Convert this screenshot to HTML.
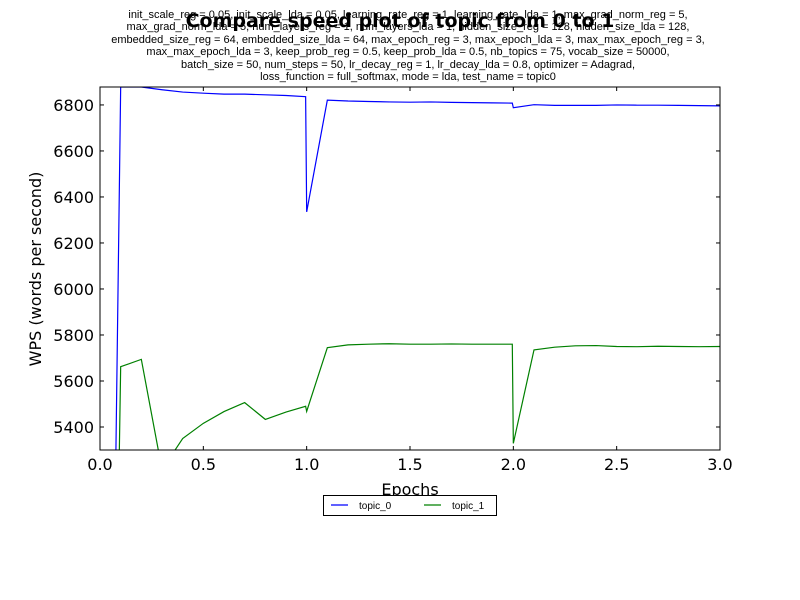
<!DOCTYPE html>
<html><head><meta charset="utf-8"><style>
html,body{margin:0;padding:0;background:#fff;overflow:hidden;width:800px;height:600px;}
svg{display:block;font-family:"Liberation Sans",sans-serif;}
</style></head><body>
<svg id="chart" width="800" height="600" xmlns="http://www.w3.org/2000/svg">
<rect width="800" height="600" fill="#fff"/>
<g font-size="11" text-anchor="middle" fill="#000">
<text x="408" y="18">init_scale_reg = 0.05, init_scale_lda = 0.05, learning_rate_reg = 1, learning_rate_lda = 1, max_grad_norm_reg = 5,</text>
<text x="408" y="30">max_grad_norm_lda = 5, num_layers_reg = 1, num_layers_lda = 1, hidden_size_reg = 128, hidden_size_lda = 128,</text>
<text x="408" y="43">embedded_size_reg = 64, embedded_size_lda = 64, max_epoch_reg = 3, max_epoch_lda = 3, max_max_epoch_reg = 3,</text>
<text x="408" y="55">max_max_epoch_lda = 3, keep_prob_reg = 0.5, keep_prob_lda = 0.5, nb_topics = 75, vocab_size = 50000,</text>
<text x="408" y="68">batch_size = 50, num_steps = 50, lr_decay_reg = 1, lr_decay_lda = 0.8, optimizer = Adagrad,</text>
<text x="408" y="80">loss_function = full_softmax, mode = lda, test_name = topic0</text>
</g>
<text x="400" y="27" font-size="19" font-weight="bold" text-anchor="middle" font-family="DejaVu Sans, sans-serif">Compare speed plot of topic from 0 to 1</text>
<g id="plot"></g>
<text x="410" y="495" font-size="16" text-anchor="middle" font-family="DejaVu Sans, sans-serif">Epochs</text>
<text transform="translate(41,269) rotate(-90)" font-size="16" text-anchor="middle" font-family="DejaVu Sans, sans-serif">WPS (words per second)</text>
<g>
<rect x="323.5" y="495.5" width="173" height="20" fill="#fff" stroke="#000"/>
<line x1="331" y1="505" x2="348" y2="505" stroke="#0000ff" stroke-width="1.3"/>
<text x="359" y="509" font-size="10">topic_0</text>
<line x1="424" y1="505" x2="441" y2="505" stroke="#008000" stroke-width="1.3"/>
<text x="452" y="509" font-size="10">topic_1</text>
</g>
</svg>
<script>
const xs0 = [0,0.1,0.2,0.3,0.4,0.5,0.6,0.7,0.8,0.9,0.995,1.0,1.1,1.2,1.3,1.4,1.5,1.6,1.7,1.8,1.9,1.995,2.0,2.1,2.2,2.3,2.4,2.5,2.6,2.7,2.8,2.9,3.0];
const topic0 = [0,6878,6878,6866,6856,6851,6847,6847,6844,6841,6836,6335,6821,6817,6815,6813,6812,6813,6811,6810,6809,6808,6788,6801,6798,6798,6798,6800,6799,6799,6798,6797,6796];
const xs1 = [0,0.1,0.2,0.3,0.4,0.5,0.6,0.7,0.8,0.9,0.995,1.0,1.1,1.2,1.3,1.4,1.5,1.6,1.7,1.8,1.9,1.995,2.0,2.1,2.2,2.3,2.4,2.5,2.6,2.7,2.8,2.9,3.0];
const topic1 = [0,5662,5694,5214,5350,5416,5467,5506,5433,5465,5490,5468,5745,5757,5760,5762,5760,5760,5761,5760,5760,5760,5329,5735,5747,5753,5754,5750,5749,5751,5750,5749,5750];
const xTicks = [0,0.5,1.0,1.5,2.0,2.5,3.0];
const xTickLabels = ["0.0","0.5","1.0","1.5","2.0","2.5","3.0"];
const yTicks = [5400,5600,5800,6000,6200,6400,6600,6800];
const yTickLabels = ["5400","5600","5800","6000","6200","6400","6600","6800"];

const L=100,R=720,T=87,B=450,xMin=0,xMax=3,yMin=5300,yMax=6878;
const sx=v=>L+(v-xMin)/(xMax-xMin)*(R-L);
const sy=v=>B-(v-yMin)/(yMax-yMin)*(B-T);
const NS="http://www.w3.org/2000/svg";
const g=document.getElementById('plot');
function mk(tag,attrs){const e=document.createElementNS(NS,tag);for(const k in attrs)e.setAttribute(k,attrs[k]);return e;}

const defs=mk('defs',{});const cp=mk('clipPath',{id:'clip'});cp.appendChild(mk('rect',{x:L,y:T,width:R-L,height:B-T}));defs.appendChild(cp);g.appendChild(defs);

function series(xs,ys,color,name){
  const p=mk('polyline',{points:xs.map((x,i)=>sx(x).toFixed(2)+','+sy(ys[i]).toFixed(2)).join(' '),fill:'none',stroke:color,'stroke-width':1.2,'clip-path':'url(#clip)'});
  
  
  g.appendChild(p);
}
series(xs0,topic0,'#0000ff','line-topic-0');
series(xs1,topic1,'#008000','line-topic-1');

const frame=mk('rect',{x:L,y:T,width:R-L,height:B-T,fill:'none',stroke:'#000','stroke-width':1});


g.appendChild(frame);

xTicks.forEach((v,i)=>{
  const x=sx(v);
  g.appendChild(mk('line',{x1:x,y1:B,x2:x,y2:B-4,stroke:'#000'}));
  g.appendChild(mk('line',{x1:x,y1:T,x2:x,y2:T+4,stroke:'#000'}));
  const t=mk('text',{x:x,y:B+20,'font-size':16,'text-anchor':'middle','font-family':'DejaVu Sans, sans-serif'});
  
  
  t.textContent=xTickLabels[i];g.appendChild(t);
});
yTicks.forEach((v,i)=>{
  const y=sy(v);
  g.appendChild(mk('line',{x1:L,y1:y,x2:L+4,y2:y,stroke:'#000'}));
  g.appendChild(mk('line',{x1:R,y1:y,x2:R-4,y2:y,stroke:'#000'}));
  const t=mk('text',{x:L-6,y:y+6,'font-size':16,'text-anchor':'end','font-family':'DejaVu Sans, sans-serif'});
  
  
  t.textContent=yTickLabels[i];g.appendChild(t);
});
</script>
</body></html>
